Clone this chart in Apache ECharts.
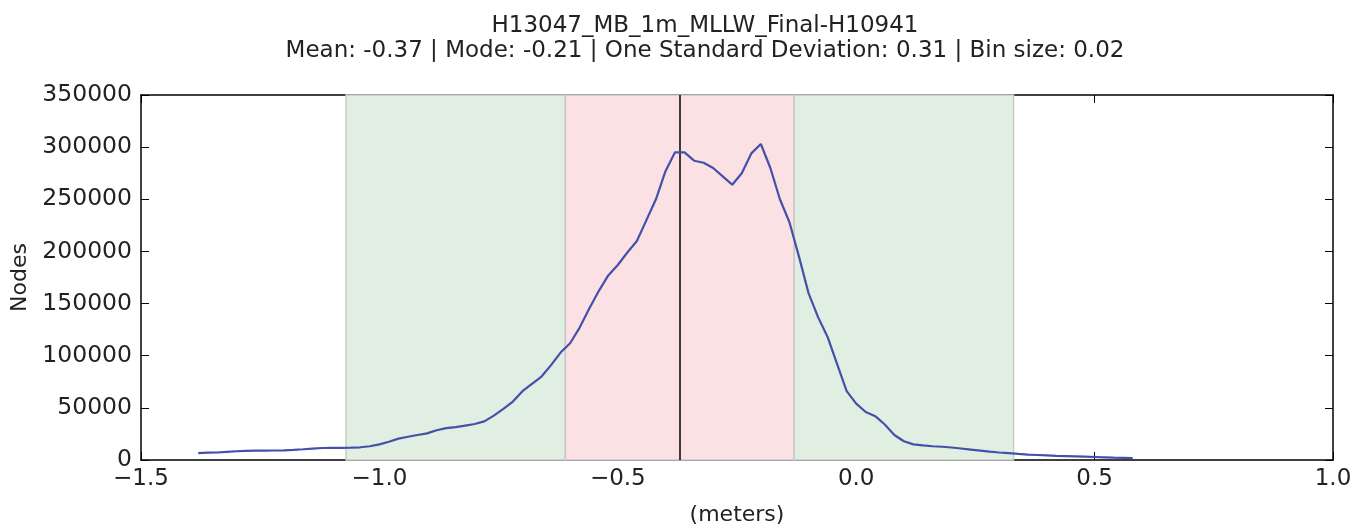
<!DOCTYPE html>
<html>
<head>
<meta charset="utf-8">
<script src="https://cdn.jsdelivr.net/npm/echarts@6/dist/echarts.min.js"></script>
<style>
  html, body { margin: 0; padding: 0; background: #fff; }
  #main { width: 1364px; height: 531px; }
</style>
</head>
<body>
<div id="main"></div>
<script>
// histogram bin centres (meters)
var binCenters = [
  -1.38, -1.36, -1.34, -1.32, -1.30, -1.28, -1.26, -1.24, -1.22, -1.20,
  -1.18, -1.16, -1.14, -1.12, -1.10, -1.08, -1.06, -1.04, -1.02, -1.00,
  -0.98, -0.96, -0.94, -0.92, -0.90, -0.88, -0.86, -0.84, -0.82, -0.80,
  -0.78, -0.76, -0.74, -0.72, -0.70, -0.68, -0.66, -0.64, -0.62, -0.60,
  -0.58, -0.56, -0.54, -0.52, -0.50, -0.48, -0.46, -0.44, -0.42, -0.40,
  -0.38, -0.36, -0.34, -0.32, -0.30, -0.28, -0.26, -0.24, -0.22, -0.20,
  -0.18, -0.16, -0.14, -0.12, -0.10, -0.08, -0.06, -0.04, -0.02, 0.00,
  0.02, 0.04, 0.06, 0.08, 0.10, 0.12, 0.14, 0.16, 0.18, 0.20,
  0.22, 0.24, 0.26, 0.28, 0.30, 0.32, 0.34, 0.36, 0.38, 0.40,
  0.42, 0.44, 0.46, 0.48, 0.50, 0.52, 0.54, 0.56, 0.58
];

// node counts per bin
var nodeCounts = [
  6500, 7000, 7200, 7800, 8400, 8800, 8900, 9000, 9100, 9300,
  9700, 10300, 11000, 11500, 11600, 11700, 11800, 12200, 13200, 15000,
  17500, 20500, 22300, 24000, 25500, 28500, 30500, 31500, 33000, 34500,
  37000, 42500, 49000, 56000, 66000, 73000, 80000, 91000, 103000, 112000,
  127000, 145000, 162000, 177000, 187000, 199000, 210000, 230000, 250000, 277000,
  295000, 295000, 287000, 285000, 280000, 272000, 264000, 275000, 294000, 303000,
  280000, 250000, 228000, 195000, 160000, 137000, 118000, 92000, 66000, 54000,
  46000, 42000, 34000, 24000, 18000, 15000, 14000, 13200, 12700, 12000,
  11000, 10000, 9000, 8000, 7200, 6500, 5800, 5200, 4800, 4400,
  4000, 3800, 3500, 3200, 2900, 2600, 2300, 2100, 1900
];

var meanValue = -0.37;
var oneSigmaBand = [-0.61, -0.13];
var twoSigmaBand = [-1.07, 0.33];

var titleText = "H13047_MB_1m_MLLW_Final-H10941";
var subText = "Mean: -0.37 | Mode: -0.21 | One Standard Deviation: 0.31 | Bin size: 0.02";

var font = "DejaVu Sans";
var chart = echarts.init(document.getElementById("main"));

var points = [];
for (var i = 0; i < binCenters.length; i++) {
  points.push([binCenters[i], nodeCounts[i]]);
}

function minusFmt(v) {
  return v.toFixed(1).replace("-", "\u2212");
}

var tickStyle = { inside: true, length: 8, lineStyle: { color: "#000", width: 1 } };
var lineStyle = { onZero: false, lineStyle: { color: "#000", width: 1.5 } };

var option = {
  backgroundColor: "#fff",
  animation: false,
  title: [
    {
      text: titleText,
      left: 700, top: 10, textAlign: "center",
      textStyle: { fontFamily: font, fontSize: 23, fontWeight: "normal", color: "#222" }
    },
    {
      text: subText,
      left: 700, top: 35, textAlign: "center",
      textStyle: { fontFamily: font, fontSize: 23, fontWeight: "normal", color: "#222" }
    }
  ],
  grid: { left: 141, right: 31, top: 95, bottom: 68, containLabel: false },
  xAxis: [
    {
      type: "value", min: -1.5, max: 1.0, interval: 0.5,
      name: "(meters)", nameLocation: "middle", nameGap: 44,
      nameTextStyle: { fontFamily: font, fontSize: 22, color: "#222" },
      axisLine: lineStyle, axisTick: tickStyle, splitLine: { show: false },
      axisLabel: { fontFamily: font, fontSize: 23, color: "#222", margin: 8, formatter: minusFmt }
    },
    {
      type: "value", position: "top", min: -1.5, max: 1.0, interval: 0.5,
      axisLine: lineStyle, axisTick: tickStyle, splitLine: { show: false },
      axisLabel: { show: false }
    }
  ],
  yAxis: [
    {
      type: "value", min: 0, max: 350000, interval: 50000,
      name: "Nodes", nameLocation: "middle", nameGap: 108, nameRotate: 90,
      nameTextStyle: { fontFamily: font, fontSize: 22, color: "#222" },
      axisLine: lineStyle, axisTick: tickStyle, splitLine: { show: false },
      axisLabel: { fontFamily: font, fontSize: 23.5, color: "#222", margin: 9, formatter: function (v) { return String(v); } }
    },
    {
      type: "value", position: "right", min: 0, max: 350000, interval: 50000,
      axisLine: lineStyle, axisTick: tickStyle, splitLine: { show: false },
      axisLabel: { show: false }
    }
  ],
  series: [
    {
      type: "line",
      data: points,
      symbol: "none",
      lineStyle: { color: "#4450aa", width: 2.2 },
      z: 5,
      markArea: {
        silent: true,
        data: [
          [{ xAxis: twoSigmaBand[0], itemStyle: { color: "#e1eee2", borderColor: "#c9c9c9", borderWidth: 1.5 } }, { xAxis: oneSigmaBand[0] }],
          [{ xAxis: oneSigmaBand[0], itemStyle: { color: "#fbe1e3", borderColor: "#c9c9c9", borderWidth: 1.5 } }, { xAxis: oneSigmaBand[1] }],
          [{ xAxis: oneSigmaBand[1], itemStyle: { color: "#e1eee2", borderColor: "#c9c9c9", borderWidth: 1.5 } }, { xAxis: twoSigmaBand[1] }]
        ]
      },
      markLine: {
        silent: true,
        symbol: "none",
        label: { show: false },
        lineStyle: { color: "#000", width: 1.5, type: "solid" },
        data: [{ xAxis: meanValue }]
      }
    },
    {
      type: "line",
      xAxisIndex: 1,
      yAxisIndex: 1,
      data: [],
      silent: true
    }
  ]
};

chart.setOption(option);
</script>
</body>
</html>
